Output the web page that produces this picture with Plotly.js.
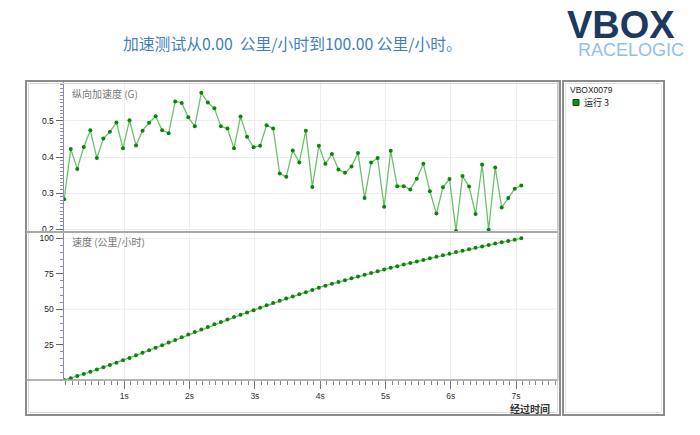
<!DOCTYPE html>
<html>
<head>
<meta charset="utf-8">
<script src="https://cdn.plot.ly/plotly-3.0.1.min.js"></script>
<style>html,body{margin:0;padding:0;background:#fff;}#chart{width:700px;height:435px;}</style>
</head>
<body>
<div id="chart"></div>
<script>
// ---- data ----
const timeS = [0.08,0.18,0.28,0.38,0.48,0.58,0.68,0.78,0.88,0.98,
  1.08,1.18,1.28,1.38,1.48,1.58,1.68,1.78,1.88,1.98,
  2.08,2.18,2.28,2.38,2.48,2.58,2.68,2.78,2.88,2.98,
  3.08,3.18,3.28,3.38,3.48,3.58,3.68,3.78,3.88,3.98,
  4.08,4.18,4.28,4.38,4.48,4.58,4.68,4.78,4.88,4.98,
  5.08,5.18,5.28,5.38,5.48,5.58,5.68,5.78,5.88,5.98,
  6.08,6.18,6.28,6.38,6.48,6.58,6.68,6.78,6.88,6.98,7.08];
const accelG = [0.283,0.422,0.367,0.428,0.474,0.397,0.451,0.470,0.496,0.424,
  0.502,0.432,0.473,0.495,0.513,0.474,0.466,0.554,0.550,0.510,
  0.485,0.578,0.551,0.535,0.485,0.479,0.424,0.512,0.456,0.427,
  0.431,0.488,0.479,0.354,0.345,0.418,0.385,0.473,0.317,0.431,
  0.381,0.408,0.365,0.356,0.374,0.411,0.286,0.385,0.397,0.262,
  0.417,0.319,0.319,0.310,0.340,0.381,0.305,0.243,0.316,0.339,
  0.195,0.347,0.318,0.242,0.379,0.198,0.371,0.260,0.286,0.312,0.321];
const speedKmh = [0,1.3,2.8,4.3,5.8,7.4,9.0,10.6,12.2,13.9,
  15.6,17.4,19.2,21.0,22.8,24.6,26.4,28.3,30.2,32.1,
  33.9,35.7,37.5,39.3,41.0,42.7,44.4,46.0,47.7,49.3,
  51.0,52.7,54.4,56.0,57.5,59.0,60.5,62.0,63.6,65.2,
  66.6,67.9,69.2,70.5,71.8,73.1,74.3,75.5,76.7,78.0,
  79.2,80.4,81.5,82.6,83.7,84.8,85.9,87.0,88.1,89.2,
  90.3,91.3,92.3,93.3,94.3,95.3,96.3,97.3,98.2,99.1,100.0];
const xTickVals = [1,2,3,4,5,6,7];
const xTickText = ['1s','2s','3s','4s','5s','6s','7s'];
const accelTickVals = [0.2,0.3,0.4,0.5];
const accelTickText = ['0.2','0.3','0.4','0.5'];
const speedTickVals = [25,50,75,100];
const speedTickText = ['25','50','75','100'];
const titleText = '加速测试从0.00&nbsp;&nbsp;公里/小时到100.00 公里/小时。';
const accelLabel = '纵向加速度 (G)';
const speedLabel = '速度 (公里/小时)';
const xLabel = '经过时间';
const fileName = 'VBOX0079';
const runName = '运行 3';

// ---- geometry helpers (pixel -> paper) ----
const W = 700, H = 435;
const mL = 64, mR = 142, mT = 82, mB = 55;
const pw = W - mL - mR, ph = H - mT - mB;
const px = v => (v - mL) / pw;
const py = v => (H - mB - v) / ph;
const split = py(232);

const lineCol = '#6cc06c', markCol = '#0b840b';
const CJK = '"Noto Sans CJK SC", "Noto Sans", sans-serif';
const LAT = '"Liberation Sans", Arial, sans-serif';

const traces = [
  {x: timeS, y: accelG, xaxis: 'x', yaxis: 'y', mode: 'lines+markers', name: runName,
   line: {color: lineCol, width: 1.3}, marker: {color: markCol, size: 4}, showlegend: false},
  {x: timeS, y: speedKmh, xaxis: 'x', yaxis: 'y2', mode: 'lines+markers', name: runName,
   line: {color: lineCol, width: 1.3}, marker: {color: markCol, size: 4}, showlegend: false}
];

function rect(x0, y0, x1, y1, color, w) {
  return {type: 'rect', xref: 'paper', yref: 'paper', x0: px(x0), x1: px(x1), y0: py(y0), y1: py(y1),
    line: {color: color, width: w}, fillcolor: 'rgba(0,0,0,0)', layer: 'above'};
}
function hline(x0, x1, y, color, w) {
  return {type: 'line', xref: 'paper', yref: 'paper', x0: px(x0), x1: px(x1), y0: py(y), y1: py(y),
    line: {color: color, width: w}, layer: 'above'};
}
function vline(x, y0, y1, color, w) {
  return {type: 'line', xref: 'paper', yref: 'paper', x0: px(x), x1: px(x), y0: py(y0), y1: py(y1),
    line: {color: color, width: w}, layer: 'above'};
}

const shapes = [
  rect(26, 81, 560, 415, '#8c8c8c', 2),
  rect(28.5, 83.5, 557.5, 412.5, '#dcdcdc', 1),
  rect(563, 81, 664, 415, '#8c8c8c', 2),
  rect(565.5, 83.5, 661.5, 412.5, '#e2e2e2', 1),
  hline(26, 558, 232, '#a8a8a8', 2),
  hline(26, 558, 380, '#9a9a9a', 1.5),
  vline(558, 82, 380, '#c4c4c4', 1.5),
  {type: 'line', xref: 'paper', yref: 'y2', x0: 0, x1: 1, y0: 50, y1: 50, line: {color: '#ececec', width: 1}, layer: 'below'},
  {type: 'line', xref: 'paper', yref: 'y2', x0: 0, x1: 1, y0: 100, y1: 100, line: {color: '#ececec', width: 1}, layer: 'below'},
  {type: 'rect', xref: 'paper', yref: 'paper', x0: px(573), x1: px(579), y0: py(99.5), y1: py(105.5),
   line: {color: '#0a4d0a', width: 1}, fillcolor: '#139013', layer: 'above'}
];

const annotations = [
  {text: titleText, xref: 'paper', yref: 'paper', x: px(121), y: py(43), xanchor: 'left', yanchor: 'middle',
   showarrow: false, font: {family: CJK, size: 15.8, color: '#3f7fc1'}},
  {text: '<b>VBOX</b>', xref: 'paper', yref: 'paper', x: px(621), y: py(25), xanchor: 'center', yanchor: 'middle',
   height: 30, valign: 'middle',
   showarrow: false, font: {family: LAT, size: 38, color: '#1b3a5e'}},
  {text: 'RACELOGIC', xref: 'paper', yref: 'paper', x: px(631), y: py(49), xanchor: 'center', yanchor: 'middle',
   height: 15, valign: 'middle',
   showarrow: false, font: {family: LAT, size: 18, color: '#8fc1e8'}},
  {text: accelLabel, xref: 'paper', yref: 'paper', x: px(70), y: py(93), xanchor: 'left', yanchor: 'middle',
   showarrow: false, font: {family: CJK, size: 10, color: '#777'}},
  {text: speedLabel, xref: 'paper', yref: 'paper', x: px(70), y: py(241), xanchor: 'left', yanchor: 'middle',
   showarrow: false, font: {family: CJK, size: 10, color: '#777'}},
  {text: '<b>' + xLabel + '</b>', xref: 'paper', yref: 'paper', x: px(552), y: py(408), xanchor: 'right', yanchor: 'middle',
   showarrow: false, font: {family: CJK, size: 10, color: '#333'}},
  {text: fileName, xref: 'paper', yref: 'paper', x: px(568), y: py(90), xanchor: 'left', yanchor: 'middle',
   showarrow: false, font: {family: LAT, size: 8.5, color: '#222'}},
  {text: runName, xref: 'paper', yref: 'paper', x: px(582), y: py(102.5), xanchor: 'left', yanchor: 'middle',
   showarrow: false, font: {family: CJK, size: 9, color: '#222'}}
];

const layout = {
  width: W, height: H,
  margin: {l: mL, r: mR, t: mT, b: mB, pad: 0},
  paper_bgcolor: '#fff', plot_bgcolor: '#fff',
  showlegend: false,
  xaxis: {
    anchor: 'y2', domain: [0, 1], range: [0.077, 7.642],
    tickmode: 'array', tickvals: xTickVals, ticktext: xTickText,
    ticks: 'outside', ticklen: 8, tickcolor: '#777', tickwidth: 1,
    minor: {tick0: 0, dtick: 0.1, ticks: 'outside', ticklen: 4, tickcolor: '#888', showgrid: false},
    showgrid: true, gridcolor: '#ececec', gridwidth: 1,
    showline: false, zeroline: false,
    tickfont: {family: LAT, size: 8.5, color: '#333'}
  },
  yaxis: {
    domain: [split, 1], range: [0.192, 0.608], anchor: 'x',
    tickmode: 'array', tickvals: accelTickVals, ticktext: accelTickText,
    ticks: 'outside', ticklen: 7, tickcolor: '#666', tickwidth: 1,
    minor: {tick0: 0, dtick: 0.01, ticks: 'outside', ticklen: 3, tickcolor: '#8a8aa8', showgrid: false},
    showgrid: true, gridcolor: '#ececec', zeroline: false,
    showline: true, linecolor: '#8686c8', linewidth: 1.5,
    tickfont: {family: LAT, size: 8.5, color: '#222'}
  },
  yaxis2: {
    domain: [0, split], range: [0, 104.5], anchor: 'x',
    tickmode: 'array', tickvals: speedTickVals, ticktext: speedTickText,
    ticks: 'outside', ticklen: 7, tickcolor: '#666', tickwidth: 1,
    minor: {tick0: 0, dtick: 5, ticks: 'outside', ticklen: 3, tickcolor: '#8a8aa8', showgrid: false},
    showgrid: false, zeroline: false,
    showline: true, linecolor: '#8686c8', linewidth: 1.5,
    tickfont: {family: LAT, size: 8.5, color: '#222'}
  },
  shapes: shapes,
  annotations: annotations
};

Plotly.newPlot('chart', traces, layout, {displayModeBar: false, staticPlot: true});
</script>
</body>
</html>
